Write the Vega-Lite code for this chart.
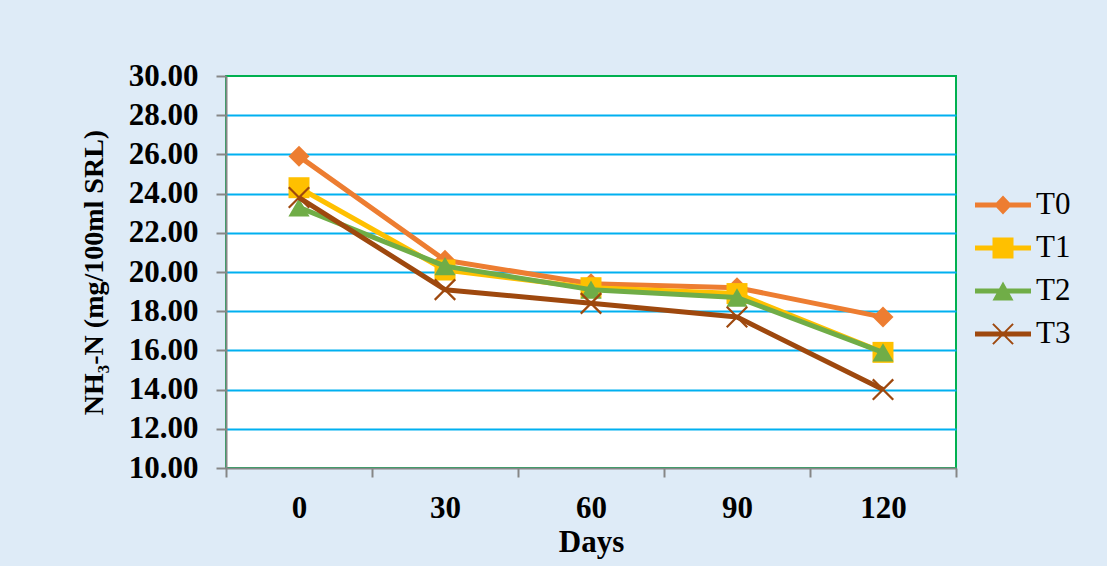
{
  "$schema": "https://vega.github.io/schema/vega-lite/v6.json",
  "autosize": {"type": "none"},
  "width": 730,
  "height": 392,
  "padding": {"left": 226, "top": 76, "right": 151, "bottom": 98},
  "background": "#DEEBF7",
  "config": {
    "font": "Liberation Serif",
    "view": {"fill": "white", "stroke": "#00B050", "strokeWidth": 2}
  },
  "data": {
    "values": [
      {"series": "T0", "day": 0, "nh3n": 25.9},
      {"series": "T0", "day": 30, "nh3n": 20.6},
      {"series": "T0", "day": 60, "nh3n": 19.4},
      {"series": "T0", "day": 90, "nh3n": 19.2},
      {"series": "T0", "day": 120, "nh3n": 17.7},
      {"series": "T1", "day": 0, "nh3n": 24.3},
      {"series": "T1", "day": 30, "nh3n": 20.1},
      {"series": "T1", "day": 60, "nh3n": 19.2},
      {"series": "T1", "day": 90, "nh3n": 18.9},
      {"series": "T1", "day": 120, "nh3n": 15.9},
      {"series": "T2", "day": 0, "nh3n": 23.3},
      {"series": "T2", "day": 30, "nh3n": 20.3},
      {"series": "T2", "day": 60, "nh3n": 19.1},
      {"series": "T2", "day": 90, "nh3n": 18.7},
      {"series": "T2", "day": 120, "nh3n": 15.9},
      {"series": "T3", "day": 0, "nh3n": 23.8},
      {"series": "T3", "day": 30, "nh3n": 19.1},
      {"series": "T3", "day": 60, "nh3n": 18.4},
      {"series": "T3", "day": 90, "nh3n": 17.7},
      {"series": "T3", "day": 120, "nh3n": 14.0}
    ]
  },
  "encoding": {
    "x": {
      "field": "day",
      "type": "ordinal",
      "sort": [0, 30, 60, 90, 120],
      "scale": {"type": "band", "paddingInner": 0, "paddingOuter": 0},
      "axis": {
        "title": "Days",
        "titleFont": "Liberation Serif",
        "titleFontSize": 31,
        "titleFontWeight": "bold",
        "titleColor": "black",
        "titlePadding": 4,
        "labelAngle": 0,
        "labelFont": "Liberation Serif",
        "labelFontSize": 31,
        "labelFontWeight": "bold",
        "labelColor": "black",
        "labelPadding": 16,
        "tickBand": "extent",
        "tickSize": 9,
        "tickWidth": 2,
        "tickColor": "#868686",
        "domainColor": "#868686",
        "domainWidth": 2,
        "grid": false
      }
    },
    "y": {
      "field": "nh3n",
      "type": "quantitative",
      "scale": {"domain": [10, 30], "nice": false, "zero": false},
      "axis": {
        "title": "NH₃-N (mg/100ml SRL)",
        "titleFont": "Liberation Serif",
        "titleFontSize": 28,
        "titleFontWeight": "bold",
        "titleColor": "black",
        "titlePadding": 20,
        "values": [10, 12, 14, 16, 18, 20, 22, 24, 26, 28, 30],
        "format": ".2f",
        "labelFont": "Liberation Serif",
        "labelFontSize": 31,
        "labelFontWeight": "bold",
        "labelColor": "black",
        "labelPadding": 18,
        "tickSize": 10,
        "tickWidth": 2,
        "tickColor": "#868686",
        "domainColor": "#868686",
        "domainWidth": 2,
        "grid": true,
        "gridWidth": 2,
        "gridColor": {
          "condition": {"test": "datum.value == 10 || datum.value == 30", "value": "transparent"},
          "value": "#00B0F0"
        }
      }
    },
    "color": {
      "field": "series",
      "type": "nominal",
      "scale": {
        "domain": ["T0", "T1", "T2", "T3"],
        "range": ["#ED7D31", "#FFC000", "#70AD47", "#9E480E"]
      },
      "legend": {
        "orient": "none",
        "legendX": 749,
        "legendY": 101,
        "title": null,
        "padding": 0,
        "symbolSize": 3136,
        "symbolStrokeWidth": 0,
        "rowPadding": -10,
        "labelOffset": 5,
        "labelFont": "Liberation Serif",
        "labelFontSize": 31,
        "labelFontWeight": "normal",
        "labelColor": "black",
        "encode": {
          "symbols": {
            "update": {
              "shape": {
                "signal": "datum.value === 'T0' ? 'M-1,-0.09L1,-0.09L1,0.09L-1,0.09Z M0,-0.34L0.32,0L0,0.34L-0.32,0Z' : datum.value === 'T1' ? 'M-1,-0.09L1,-0.09L1,0.09L-1,0.09Z M-0.375,-0.375L0.375,-0.375L0.375,0.375L-0.375,0.375Z' : datum.value === 'T2' ? 'M-1,-0.09L1,-0.09L1,0.09L-1,0.09Z M0,-0.34L0.375,0.34L-0.375,0.34Z' : 'M-1,-0.09L1,-0.09L1,0.09L-1,0.09Z M-0.335,-0.385L0.385,0.335L0.335,0.385L-0.385,-0.335Z M-0.385,0.335L0.335,-0.385L0.385,-0.335L-0.335,0.385Z'"
              },
              "fill": {"scale": "color", "field": "value"},
              "strokeWidth": {"value": 0},
              "opacity": {"value": 1}
            }
          }
        }
      }
    }
  },
  "layer": [
    {
      "transform": [{"filter": "datum.series == 'T0'"}],
      "layer": [
        {"mark": {"type": "line", "strokeWidth": 5, "strokeJoin": "round"}},
        {"mark": {"type": "point", "shape": "M0,-1L1,0L0,1L-1,0Z", "filled": true, "size": 440, "opacity": 1}}
      ]
    },
    {
      "transform": [{"filter": "datum.series == 'T1'"}],
      "layer": [
        {"mark": {"type": "line", "strokeWidth": 5, "strokeJoin": "round"}},
        {"mark": {"type": "point", "shape": "square", "filled": true, "size": 440, "opacity": 1}}
      ]
    },
    {
      "transform": [{"filter": "datum.series == 'T2'"}],
      "layer": [
        {"mark": {"type": "line", "strokeWidth": 5, "strokeJoin": "round"}},
        {"mark": {"type": "point", "shape": "triangle-up", "filled": true, "size": 450, "opacity": 1}}
      ]
    },
    {
      "transform": [{"filter": "datum.series == 'T3'"}],
      "layer": [
        {"mark": {"type": "line", "strokeWidth": 5, "strokeJoin": "round"}},
        {"mark": {"type": "point", "shape": "M-1,-1L1,1M-1,1L1,-1", "filled": false, "strokeWidth": 2.2, "size": 420, "opacity": 1}}
      ]
    }
  ]
}
